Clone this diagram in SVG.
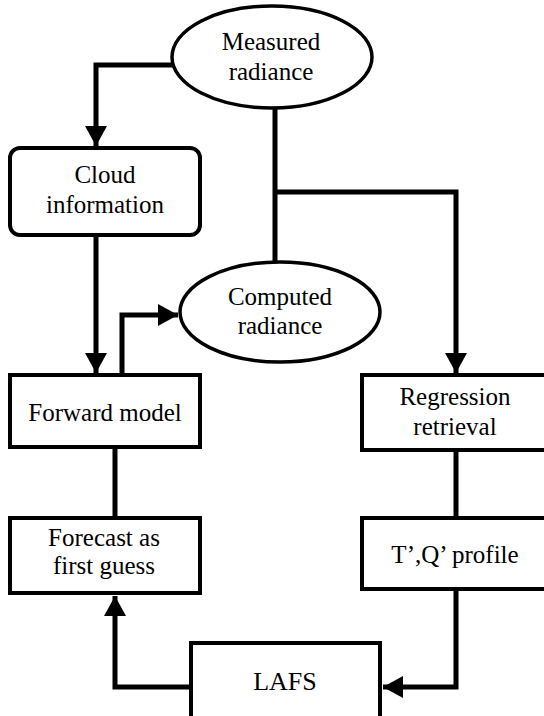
<svg xmlns="http://www.w3.org/2000/svg" width="544" height="716" viewBox="0 0 544 716">
<style>
  .box{fill:#fff;stroke:#000;stroke-width:4}
  .ell{fill:#fff;stroke:#000;stroke-width:3.5}
  text{font-family:'Liberation Serif','Times New Roman','DejaVu Serif',serif;font-size:25px;fill:#000;text-anchor:middle}
  .c{fill:none;stroke:#000;stroke-width:5;stroke-linejoin:miter}
</style>
<defs>
  <marker id="ah" markerWidth="4.4" markerHeight="4.4" refX="4" refY="2.2" orient="auto" markerUnits="strokeWidth">
    <path d="M0,0 L4,2.2 L0,4.4 Z" fill="#000"/>
  </marker>
</defs>
<rect width="544" height="716" fill="#fff"/>
<g id="connectors">
  <path class="c" d="M174,65 H96 V146" marker-end="url(#ah)"/>
  <path class="c" d="M275,107 V262"/>
  <path class="c" d="M273,192 H456 V373" marker-end="url(#ah)"/>
  <path class="c" d="M96,235 V373" marker-end="url(#ah)"/>
  <path class="c" d="M122,375 V315 H178" marker-end="url(#ah)"/>
  <path class="c" d="M115,447 V518"/>
  <path class="c" d="M456,450 V518"/>
  <path class="c" d="M456,589 V687 H383" marker-end="url(#ah)"/>
  <path class="c" d="M191,687 H115 V596" marker-end="url(#ah)"/>
</g>
<g id="measured">
  <ellipse class="ell" cx="272" cy="57" rx="100" ry="51"/>
  <text x="271" y="50" font-family="Liberation Serif, serif">Measured</text>
  <text x="271" y="80" font-family="Liberation Serif, serif">radiance</text>
</g>
<g id="cloud">
  <rect class="box" x="10" y="148" width="190" height="87" rx="10"/>
  <text x="105" y="183">Cloud</text>
  <text x="105" y="213">information</text>
</g>
<g id="computed">
  <ellipse class="ell" cx="280" cy="312" rx="100" ry="50"/>
  <text x="280" y="305">Computed</text>
  <text x="280" y="334">radiance</text>
</g>
<g id="forward">
  <rect class="box" x="10" y="375" width="190" height="72"/>
  <text x="105" y="421">Forward model</text>
</g>
<g id="regression">
  <rect class="box" x="362" y="375" width="190" height="75"/>
  <text x="455" y="405">Regression</text>
  <text x="455" y="435">retrieval</text>
</g>
<g id="forecast">
  <rect class="box" x="10" y="518" width="190" height="75"/>
  <text x="104" y="546">Forecast as</text>
  <text x="104" y="574">first guess</text>
</g>
<g id="tqprofile">
  <rect class="box" x="362" y="518" width="190" height="71"/>
  <text x="455" y="563">T’,Q’ profile</text>
</g>
<g id="lafs">
  <rect class="box" x="191" y="643" width="189" height="76"/>
  <text x="285" y="690" style="font-size:26px">LAFS</text>
</g>
</svg>
